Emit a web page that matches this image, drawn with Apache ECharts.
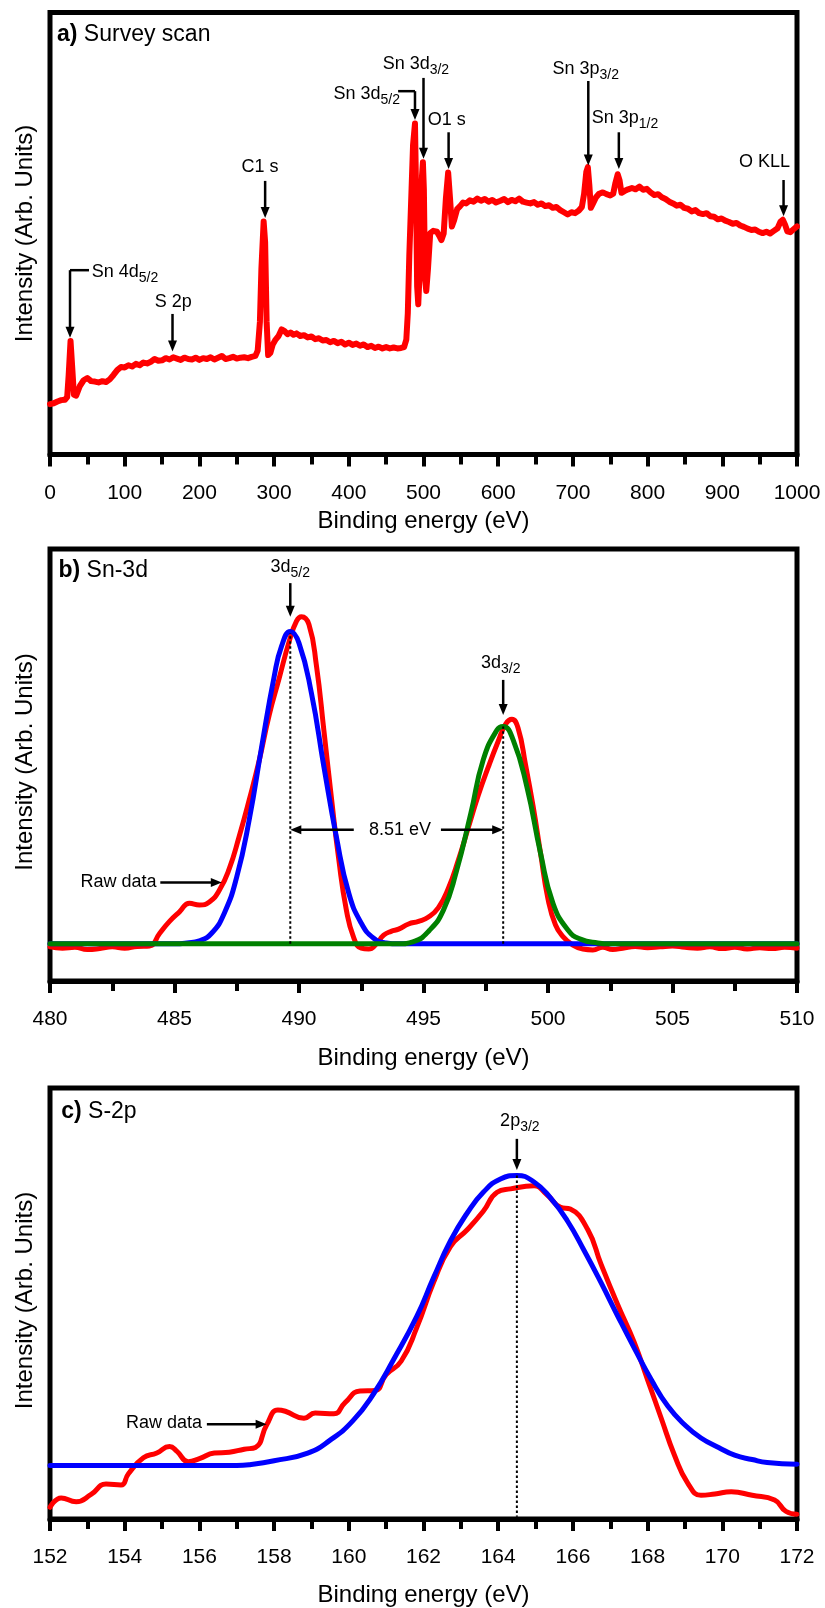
<!DOCTYPE html>
<html><head><meta charset="utf-8">
<script src="https://cdn.jsdelivr.net/npm/echarts/dist/echarts.min.js"></script>
<style>html,body{margin:0;padding:0;background:#fff}#c{width:825px;height:1608px}</style>
</head><body><div id="c"></div><script>
// ---------- (a) Survey scan ----------
const surveyE = [0,5,10,15,20,23,25,27.5,30,32,35,40,45,50,55,60,65,70,75,80,85,90,95,100,105,110,115,120,125,130,135,140,145,150,155,160,165,170,175,180,185,190,195,200,205,210,215,220,225,230,235,240,245,250,255,260,265,270,275,278,281,283,286,288,290,292,295,298,302,306,310,314,318,322,326,330,335,340,345,350,355,360,365,370,375,380,385,390,395,400,405,410,415,420,425,430,435,440,445,450,455,460,465,470,474,477,479,481,484,486,488.6,490,491.5,493,494.5,496,498,499.2,500.5,502,503.7,506,509,513,518,521,524,527,530,533,535.5,538,541,545,549,553,557,562,567,572,577,582,587,592,597,603,608,613,618,623,628,633,638,643,648,653,658,663,668,673,678,683,688,693,698,703,708,712,715,718,720,722,724,727,731,735,740,745,750,754,757,760,762.5,765,769,774,779,784,789,794,799,804,809,814,819,824,829,834,839,844,849,854,859,864,869,874,879,884,889,894,899,904,909,914,919,924,929,934,939,944,949,954,959,964,969,974,978,981,984,987,991,995,1000];
const surveyI = [11.4,11.6,12.0,12.3,12.4,13.0,18,25.7,19,13.5,13.3,15.5,16.8,17.3,16.6,16.5,16.3,16.6,16.4,17.0,18.0,19.1,19.8,19.7,20.2,19.9,20.5,20.2,20.8,20.6,21.0,21.6,21.2,21.3,21.8,21.5,22.0,21.7,21.4,21.9,21.6,21.5,21.9,21.4,21.8,21.6,22.0,21.5,21.9,22.3,21.6,21.8,22.1,21.7,21.9,22.0,21.8,22.1,22.3,23.5,30,42,52.7,48,30,22.5,23.0,24.8,26.0,26.8,28.3,27.9,27.2,27.6,27.1,27.4,26.8,27.0,26.5,26.7,26.1,26.3,25.8,25.9,25.4,25.7,25.2,25.5,24.9,25.3,24.8,25.1,24.6,24.9,24.3,24.6,24.1,24.4,24.0,24.3,24.0,24.2,24.0,24.1,24.3,26,32,45,60,70,74.9,60,38,34,40,55,63,66.1,60,40,37.0,42,50.1,50.6,50.4,49.5,48.5,50,58,63.8,58,51.6,53,55.5,56.2,57.0,56.8,57.5,57.2,57.9,57.4,57.8,57.2,57.6,57.0,57.4,57.8,57.1,57.6,57.3,57.9,57.2,57.0,56.8,57.1,56.5,56.8,56.2,56.4,55.8,56.0,55.3,54.8,54.3,54.8,54.6,55.2,56.0,59,64,65.0,61,55.8,56.8,58.2,59.0,59.3,58.9,58.6,59.0,61.5,63.4,62,59.2,59.6,60.0,60.3,60.0,60.6,59.9,60.1,59.3,58.7,58.9,58.2,57.8,57.2,56.8,56.3,56.5,55.8,55.6,55.0,55.3,54.6,54.4,54.6,53.9,53.8,53.2,53.4,52.9,52.6,52.2,52.4,51.8,51.5,51.1,50.8,50.9,50.4,50.1,50.4,50.0,50.6,51.2,52.7,53.1,52.0,50.5,50.3,50.9,51.6];

// annotations: labels [x, y, text, align]; arrows [x1,y1,xTip,yTip]; segments [x1,y1,x2,y2]
const annotA = {
  title: '{b|a)} Survey scan', titleAt: [9.4, 94.9],
  labels: [
    [55.8, 41.3, 'Sn 4d{s|5/2}', 'left'],
    [165, 34.4, 'S 2p', 'center'],
    [281, 65.0, 'C1 s', 'center'],
    [468.5, 81.6, 'Sn 3d{s|5/2}', 'right'],
    [445.3, 88.3, 'Sn 3d{s|3/2}', 'left'],
    [531, 75.7, 'O1 s', 'center'],
    [672.7, 87.1, 'Sn 3p{s|3/2}', 'left'],
    [725.2, 76.1, 'Sn 3p{s|1/2}', 'left'],
    [956.5, 66.1, 'O KLL', 'center']
  ],
  arrows: [
    [26.8, 41.7, 26.8, 26.4],
    [164, 31.8, 164, 23.3],
    [288, 61.9, 288, 53.5],
    [488.6, 82.2, 488.6, 75.7],
    [500, 85.2, 500, 66.9],
    [533.6, 72.9, 533.6, 64.6],
    [720.6, 84.5, 720.6, 65.4],
    [761.5, 72.9, 761.5, 64.6],
    [982, 62.1, 982, 53.9]
  ],
  segments: [
    [26.8, 41.7, 52.2, 41.7],
    [466, 82.2, 488.6, 82.2]
  ],
  dotted: []
};

// ---------- (b) Sn-3d ----------
const sn3dE = [480,480.5,481,481.5,482,482.5,483,483.5,484,484.4,484.8,485.2,485.6,486.0,486.4,486.8,487.2,487.6,488.0,488.4,488.8,489.2,489.6,489.9,490.1,490.4,490.7,491.0,491.3,491.6,491.9,492.2,492.5,492.8,493.1,493.4,493.7,494.0,494.4,494.8,495.2,495.6,496.0,496.4,496.8,497.2,497.6,498.0,498.3,498.55,498.8,499.1,499.4,499.7,500.0,500.3,500.6,501.0,501.4,501.8,502.2,502.6,503,503.5,504,504.5,505,505.5,506,506.5,507,507.5,508,508.5,509,509.5,510];
const sn3dRaw = [7.9,7.6,7.8,7.3,7.5,7.9,7.6,8.0,8.1,11.0,13.8,16.0,18.0,17.6,18.3,21.0,26.0,33.5,41.9,51.0,61.5,70.0,78.5,83.3,84.3,82.5,73.0,58.0,42.5,28.0,16.5,10.0,7.6,7.4,8.5,10.6,11.5,12.0,13.2,13.8,14.8,17.0,21.5,28.0,35.5,43.0,49.5,55.5,59.5,60.6,58.5,50.0,40.5,29.6,19.0,13.0,10.3,8.3,7.4,7.2,7.8,7.3,7.6,8.0,7.7,7.9,8.1,7.8,7.6,7.9,7.5,7.8,7.4,7.7,7.5,7.8,7.6];
const fit52E = [480,485,485.5,486,486.5,487,487.5,488,488.5,489,489.3,489.65,490,490.5,491,491.5,492,492.5,493,493.5,494,510];
const fit52I = [8.6,8.6,8.8,9.3,11.1,15.7,24.1,37.3,54.2,70.4,77.5,80.9,78.2,66.6,49.6,33.4,20.3,13.4,9.9,8.8,8.6,8.6];
const fit32E = [480,494,494.6,495.25,495.8,496.3,496.9,497.4,497.95,498.2,498.6,499.15,499.7,500.2,500.8,501.3,502,502.5,510];
const fit32I = [8.6,8.6,9.1,11.8,16.4,24.9,38.8,51.2,58.1,58.9,55.8,45.0,29.6,18.0,11.8,9.7,8.8,8.6,8.6];
const annotB = {
  title: '{b|b)} Sn-3d', titleAt: [480.34, 95.1],
  labels: [
    [489.65, 95.9, '3d{s|5/2}', 'center'],
    [498.1, 73.5, '3d{s|3/2}', 'center'],
    [494.06, 35.0, '8.51 eV', 'center'],
    [482.75, 22.8, 'Raw data', 'center']
  ],
  arrows: [
    [489.65, 92.1, 489.65, 84.3],
    [498.2, 69.7, 498.2, 61.6],
    [492.2, 35.0, 489.65, 35.0],
    [495.7, 35.0, 498.2, 35.0],
    [484.43, 22.8, 486.9, 22.8]
  ],
  segments: [],
  dotted: [
    [489.65, 8.6, 489.65, 80.5],
    [498.2, 8.6, 498.2, 58.9]
  ]
};

// ---------- (c) S-2p ----------
const s2pE = [152.0,152.3,152.7,153.1,153.5,153.9,154.1,154.5,154.86,155.2,155.4,155.7,156.0,156.4,156.8,157.2,157.5,157.8,158.1,158.3,158.8,159.1,159.6,159.9,160.3,160.7,161.0,161.4,161.82,162.27,162.72,163.17,163.6,163.97,164.33,164.96,165.3,165.67,165.93,166.4,166.75,167.2,167.64,168.0,168.36,168.72,169.07,169.43,169.8,170.24,170.8,171.4,171.7,172.0];
const s2pRaw = [2.7,4.9,4.0,5.7,8.1,7.9,10.5,14.2,15.3,16.8,15.7,13.3,14.0,15.3,15.5,16.2,16.6,21.8,25.3,25.0,23.4,24.6,24.4,27.0,29.7,29.8,33.5,36.6,44.4,54.9,63.2,67.1,71.4,75.8,76.6,77.3,75.3,72.3,71.9,67.1,59.2,49.7,41.0,32.3,23.5,14.8,8.4,5.5,5.8,6.3,5.5,4.4,1.8,1.1];
const s2pFitE = [152,157,157.35,158.0,158.9,159.5,160.1,160.66,161.2,161.82,162.27,162.72,163.17,163.6,164.06,164.5,164.96,165.4,165.85,166.3,166.75,167.2,167.64,168.1,168.54,169.0,169.43,169.9,170.33,170.8,171.2,172];
const s2pFitI = [12.4,12.4,12.6,13.5,15.3,18.3,22.7,29.0,37.0,47.0,56.0,64.5,71.0,75.8,78.9,79.7,78.2,74.5,69.2,62.3,54.9,47.1,39.7,32.3,26.2,21.8,18.8,16.6,14.8,13.8,13.1,12.7];
const annotC = {
  title: '{b|c)} S-2p', titleAt: [152.3, 94.4],
  labels: [
    [164.58, 92.3, '2p{s|3/2}', 'center'],
    [155.05, 22.3, 'Raw data', 'center']
  ],
  arrows: [
    [164.5, 88.2, 164.5, 81.0],
    [156.2, 22.0, 157.8, 22.0]
  ],
  segments: [],
  dotted: [
    [164.5, 79.7, 164.5, 0.5]
  ]
};

// ---------- chart ----------
const FONT = "'Liberation Sans', Arial, Helvetica, sans-serif";
const RICH = {
  s: {fontSize: 14, fontFamily: FONT, fill: '#000', color: '#000', verticalAlign: 'bottom', lineHeight: 15},
  b: {fontSize: 23, fontWeight: 'bold', fontFamily: FONT, fill: '#000', color: '#000', lineHeight: 26}
};
const zip = (xs, ys) => xs.map((x, i) => [x, ys[i]]);

function gridAt(top, height) {
  return {left: 50, width: 747, top: top, height: height, show: true, borderColor: '#000', borderWidth: 5,
          backgroundColor: 'transparent', containLabel: false, outerBoundsMode: 'none'};
}
function xAx(gi, min, max, interval, gap) {
  return {type: 'value', gridIndex: gi, min: min, max: max, interval: interval, position: 'bottom',
    name: 'Binding energy (eV)', nameLocation: 'middle', nameGap: gap,
    nameTextStyle: {fontFamily: FONT, fontSize: 24, color: '#000'},
    axisLine: {show: true, onZero: false, lineStyle: {color: '#000', width: 5}},
    axisTick: {show: true, inside: false, length: 12, lineStyle: {color: '#000', width: 4}},
    minorTick: {show: true, splitNumber: 2, length: 10, lineStyle: {color: '#000', width: 4}},
    axisLabel: {show: true, margin: 28, fontFamily: FONT, fontSize: 21, color: '#000', hideOverlap: false,
                formatter: v => String(v)},
    splitLine: {show: false}, minorSplitLine: {show: false}};
}
function yAx(gi, pad) {
  return {type: 'value', gridIndex: gi, min: 0, max: 100,
    name: 'Intensity (Arb. Units)', nameLocation: 'middle', nameGap: 13, nameRotate: 90,
    nameTextStyle: {fontFamily: FONT, fontSize: 24, color: '#000', padding: [0, 0, 0, pad]},
    axisLine: {show: false}, axisTick: {show: false}, axisLabel: {show: false}, splitLine: {show: false}};
}
function lineSeries(gi, data, color, width, smooth, z) {
  return {type: 'line', xAxisIndex: gi, yAxisIndex: gi, data: data, showSymbol: false, symbol: 'none',
    smooth: smooth, z: z, clip: true, silent: true,
    lineStyle: {color: color, width: width, join: 'round', cap: 'round'}, itemStyle: {color: color}};
}
function annotSeries(gi, A) {
  const items = [];
  A.segments.forEach(p => items.push(['seg', p]));
  A.dotted.forEach(p => items.push(['dot', p]));
  A.arrows.forEach(p => items.push(['arrow', p]));
  A.labels.forEach(p => items.push(['text', p]));
  items.push(['title', [A.titleAt[0], A.titleAt[1], A.title, 'left']]);
  return {
    type: 'custom', coordinateSystem: 'cartesian2d', xAxisIndex: gi, yAxisIndex: gi,
    clip: false, silent: true, z: 20,
    data: items.map((it, i) => [it[1][0], it[1][1], i]),
    encode: {x: 0, y: 1},
    renderItem: function (params, api) {
      const k = items[params.dataIndex][0], p = items[params.dataIndex][1];
      if (k === 'seg' || k === 'dot') {
        const a = api.coord([p[0], p[1]]), b = api.coord([p[2], p[3]]);
        return {type: 'line', shape: {x1: a[0], y1: a[1], x2: b[0], y2: b[1]},
          style: {stroke: '#000', lineWidth: k === 'dot' ? 2 : 2.5, lineDash: k === 'dot' ? [2.5, 2.5] : null, fill: null}};
      }
      if (k === 'arrow') {
        const s = api.coord([p[0], p[1]]), t = api.coord([p[2], p[3]]);
        const dx = t[0] - s[0], dy = t[1] - s[1], L = Math.hypot(dx, dy) || 1;
        const ux = dx / L, uy = dy / L, hl = 11, hw = 4.5;
        const bx = t[0] - ux * hl, by = t[1] - uy * hl;
        return {type: 'group', children: [
          {type: 'line', shape: {x1: s[0], y1: s[1], x2: bx + ux, y2: by + uy}, style: {stroke: '#000', lineWidth: 2.5}},
          {type: 'polygon', shape: {points: [[t[0], t[1]], [bx - uy * hw, by + ux * hw], [bx + uy * hw, by - ux * hw]]},
           style: {fill: '#000', stroke: null}}
        ]};
      }
      const c = api.coord([p[0], p[1]]);
      const isTitle = k === 'title';
      return {type: 'text', x: c[0], y: c[1],
        style: {text: p[2], fontFamily: FONT, fontSize: isTitle ? 23 : 18, fill: '#000',
                align: p[3], verticalAlign: 'middle', lineHeight: 26, rich: RICH}};
    }
  };
}

const chart = echarts.init(document.getElementById('c'), null, {renderer: 'canvas', width: 825, height: 1608});
chart.setOption({
  animation: false,
  backgroundColor: '#ffffff',
  textStyle: {fontFamily: FONT},
  grid: [gridAt(12.5, 442), gridAt(549, 432), gridAt(1088, 431)],
  xAxis: [xAx(0, 0, 1000, 100, 55), xAx(1, 480, 510, 5, 65), xAx(2, 152, 172, 2, 64)],
  yAxis: [yAx(0, 0), yAx(1, 6), yAx(2, 6)],
  series: [
    lineSeries(0, zip(surveyE, surveyI), '#ff0000', 6, false, 3),
    lineSeries(1, zip(sn3dE, sn3dRaw), '#ff0000', 5, 0.5, 3),
    lineSeries(1, zip(fit52E, fit52I), '#0000ff', 5, 0.5, 4),
    lineSeries(1, zip(fit32E, fit32I), '#008000', 5, 0.5, 5),
    lineSeries(2, zip(s2pE, s2pRaw), '#ff0000', 5, 0.5, 3),
    lineSeries(2, zip(s2pFitE, s2pFitI), '#0000ff', 5, 0.5, 4),
    annotSeries(0, annotA),
    annotSeries(1, annotB),
    annotSeries(2, annotC)
  ]
});
</script></body></html>
